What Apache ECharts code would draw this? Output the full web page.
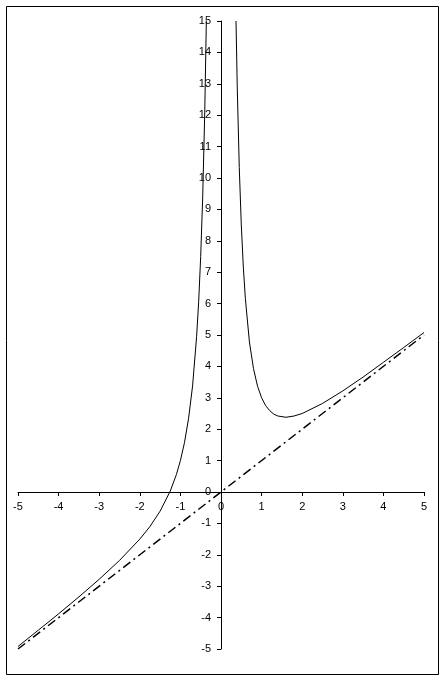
<!DOCTYPE html>
<html>
<head>
<meta charset="utf-8">
<script src="https://cdn.jsdelivr.net/npm/echarts@6/dist/echarts.min.js"></script>
<style>
  html, body { margin: 0; padding: 0; background: #fff; }
  #chart { width: 445px; height: 679px; }
</style>
</head>
<body>
<div id="chart"></div>
<script>
// left branch of the curve (x < 0)
const leftX = [-5, -4.5, -4, -3.5, -3, -2.5, -2, -1.75, -1.5, -1.25, -1.1, -1, -0.9, -0.8, -0.7, -0.6, -0.55, -0.5, -0.45, -0.4, -0.361];
const leftY = [-4.92, -4.4, -3.88, -3.34, -2.78, -2.18, -1.5, -1.1, -0.61, 0.03, 0.55, 1.0, 1.57, 2.33, 3.38, 4.96, 6.06, 7.5, 9.43, 12.1, 15];

// right branch of the curve (x > 0)
const rightX = [0.37, 0.4, 0.45, 0.5, 0.55, 0.6, 0.7, 0.8, 0.9, 1.0, 1.1, 1.2, 1.3, 1.4, 1.6, 1.8, 2.0, 2.5, 3, 3.5, 4, 4.5, 5];
const rightY = [15, 12.9, 10.33, 8.5, 7.16, 6.16, 4.78, 3.93, 3.37, 3.0, 2.75, 2.59, 2.48, 2.42, 2.38, 2.42, 2.5, 2.82, 3.22, 3.66, 4.13, 4.6, 5.08];

// dash-dot asymptote
const asymX = [-5, 5];
const asymY = [-5, 5];

const X_MIN = -5, X_MAX = 5, Y_MIN = -5, Y_MAX = 15;

const pairs = (xs, ys) => xs.map((x, i) => [x, ys[i]]);

const W = 445, H = 679;
const grid = { left: 18, right: 21, top: 21, bottom: 30 };
const plotW = W - grid.left - grid.right;
const plotH = H - grid.top - grid.bottom;
// axes cross at the origin: shift them in from the grid edges
const xAxisOffset = -plotH * (0 - Y_MIN) / (Y_MAX - Y_MIN);
const yAxisOffset = -plotW * (0 - X_MIN) / (X_MAX - X_MIN);

const chart = echarts.init(document.getElementById('chart'));

const axisCommon = {
  type: 'value',
  interval: 1,
  axisLine: { onZero: false, lineStyle: { color: '#000', width: 1 } },
  axisTick: { show: true, inside: false, length: 4, lineStyle: { color: '#000' } },
  axisLabel: { color: '#000', fontSize: 11, fontFamily: 'Liberation Sans, Arial, sans-serif' },
  splitLine: { show: false }
};

const curveStyle = { color: '#000', width: 1 };

chart.setOption({
  animation: false,
  backgroundColor: '#fff',
  grid: Object.assign({ containLabel: false }, grid),
  graphic: [{
    type: 'rect',
    shape: { x: 6.5, y: 6.5, width: 432, height: 668 },
    style: { fill: 'none', stroke: '#000', lineWidth: 1 },
    silent: true
  }],
  xAxis: Object.assign({}, axisCommon, {
    min: X_MIN, max: X_MAX, position: 'bottom', offset: xAxisOffset,
    axisLabel: Object.assign({}, axisCommon.axisLabel, { margin: 9 })
  }),
  yAxis: Object.assign({}, axisCommon, {
    min: Y_MIN, max: Y_MAX, position: 'left', offset: yAxisOffset,
    axisLabel: Object.assign({}, axisCommon.axisLabel, { margin: 10 })
  }),
  series: [
    {
      type: 'line', data: pairs(leftX, leftY), symbol: 'none',
      lineStyle: curveStyle, clip: true
    },
    {
      type: 'line', data: pairs(rightX, rightY), symbol: 'none',
      lineStyle: curveStyle, clip: true
    },
    {
      type: 'line', data: pairs(asymX, asymY), symbol: 'none',
      lineStyle: { color: '#000', width: 1.5, type: [9, 4, 2, 4] }
    }
  ]
});
</script>
</body>
</html>
